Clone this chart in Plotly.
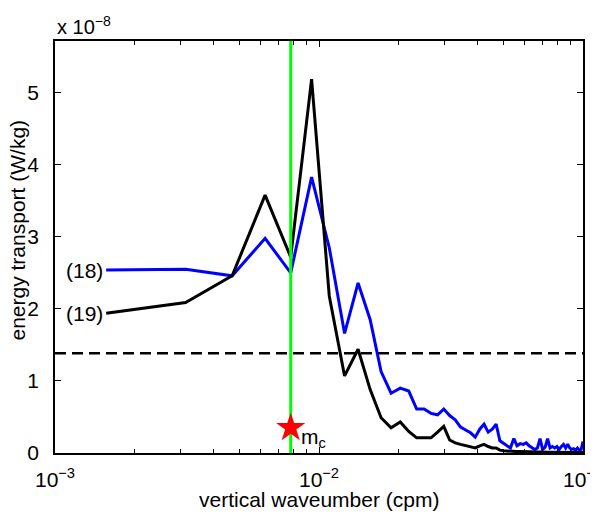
import math
import plotly.graph_objects as go

# ---- data (energy transport in units of 1e-8 W/kg) ----
k_index = list(range(1, 65))
dm = 1.0 / 640.0
wavenumber = [k * dm for k in k_index]  # cpm

series18 = [2.54, 2.55, 2.46, 2.98, 2.50, 3.83, 2.85, 1.66, 2.36, 1.85,
            1.13, 0.83, 0.90, 0.86, 0.61, 0.61, 0.55, 0.53, 0.61, 0.52,
            0.46, 0.36, 0.32, 0.28, 0.22, 0.33, 0.40, 0.29, 0.33, 0.40,
            0.17, 0.13, 0.10, 0.07, 0.20, 0.10, 0.13, 0.12, 0.14, 0.10,
            0.08, 0.05, 0.07, 0.20, 0.05, 0.08, 0.20, 0.07, 0.09, 0.07,
            0.09, 0.05, 0.09, 0.12, 0.07, 0.12, 0.07, 0.05, 0.06, 0.04,
            0.07, 0.04, 0.05, 0.16]

series19 = [1.94, 2.09, 2.46, 3.58, 2.72, 5.19, 2.18, 1.07, 1.44, 0.88,
            0.49, 0.35, 0.43, 0.30, 0.21, 0.21, 0.21, 0.29, 0.37, 0.18,
            0.14, 0.12, 0.10, 0.09, 0.07, 0.10, 0.12, 0.09, 0.07, 0.07,
            0.04, 0.03, 0.025, 0.02, 0.02, 0.02, 0.02, 0.018, 0.016, 0.015,
            0.014, 0.013, 0.012, 0.012, 0.011, 0.011, 0.010, 0.010, 0.010, 0.010,
            0.009, 0.009, 0.009, 0.008, 0.008, 0.008, 0.008, 0.007, 0.007, 0.007,
            0.007, 0.006, 0.006, 0.006]

m_c = 5 * dm            # critical wavenumber (cpm)
star_value = 0.35       # marker height
threshold = 1.385       # dashed reference level

x_range = [1e-3, 1e-1]
y_max = 5.72
x_tickvals = [1e-3, 1e-2, 1e-1]
x_ticktext = ["10<sup>\u22123</sup>", "10<sup>\u22122</sup>", "10<sup>\u22121</sup>"]
x_minor = [m * 10 ** e for e in (-3, -2) for m in range(2, 10)]
y_tickvals = [0, 1, 2, 3, 4, 5]

FONT = "Liberation Sans, Arial, Helvetica, sans-serif"
FS = 21

fig = go.Figure()
fig.add_trace(go.Scatter(x=wavenumber, y=series18, mode="lines",
                         line=dict(color="#0000FF", width=3), showlegend=False))
fig.add_trace(go.Scatter(x=wavenumber, y=series19, mode="lines",
                         line=dict(color="#000000", width=3), showlegend=False))
fig.add_trace(go.Scatter(x=x_range, y=[threshold, threshold], mode="lines",
                         line=dict(color="#000000", width=2.5, dash="11px,6px"),
                         showlegend=False))
fig.add_trace(go.Scatter(x=[m_c, m_c], y=[0, y_max], mode="lines",
                         line=dict(color="#00FF00", width=3), showlegend=False))
fig.add_trace(go.Scatter(x=[m_c], y=[star_value], mode="markers",
                         marker=dict(symbol="star", size=22, color="#FF0000",
                                     line=dict(width=0)),
                         showlegend=False))

ann_font = dict(family=FONT, size=FS, color="black")
# annotations on a log axis take log10 positions
fig.add_annotation(x=math.log10(wavenumber[0]), y=series18[0], xref="x", yref="y",
                   text="(18)", showarrow=False, xanchor="right", xshift=-1,
                   font=ann_font)
fig.add_annotation(x=math.log10(wavenumber[0]), y=series19[0], xref="x", yref="y",
                   text="(19)", showarrow=False, xanchor="right", xshift=-1,
                   font=ann_font)
fig.add_annotation(x=math.log10(m_c), y=star_value, xref="x", yref="y",
                   text="m<sub>c</sub>", showarrow=False, xanchor="left",
                   xshift=8, yshift=-10, font=ann_font)
fig.add_annotation(x=0, y=1, xref="paper", yref="paper", text="x 10<sup>\u22128</sup>",
                   showarrow=False, xanchor="left", yanchor="bottom", yshift=1,
                   font=dict(family=FONT, size=20, color="black"))
fig.add_annotation(x=0.5, y=0, xref="paper", yref="paper",
                   text="vertical waveumber (cpm)", showarrow=False,
                   xanchor="center", yanchor="middle", yshift=-46, font=ann_font)
fig.add_annotation(x=0, y=0.54, xref="paper", yref="paper",
                   text="energy transport (W/kg)", showarrow=False, textangle=-90,
                   xanchor="center", yanchor="middle", xshift=-37, font=ann_font)

fig.update_xaxes(type="log", range=[-3, -1], tickvals=x_tickvals, ticktext=x_ticktext,
                 ticks="inside", ticklen=6, tickwidth=1, tickcolor="black",
                 showline=True, linecolor="black", linewidth=1.5, mirror="ticks",
                 showgrid=False, zeroline=False, ticklabelstandoff=7,
                 automargin=False, ticklabeloverflow="allow",
                 tickfont=dict(family=FONT, size=FS, color="black"),
                 minor=dict(tickvals=x_minor, ticks="inside", ticklen=4,
                            tickcolor="black", tickwidth=1, showgrid=False))
fig.update_yaxes(range=[0, y_max], tickvals=y_tickvals,
                 ticks="inside", ticklen=6, tickwidth=1, tickcolor="black",
                 showline=True, linecolor="black", linewidth=1.5, mirror="ticks",
                 showgrid=False, zeroline=False, ticklabelstandoff=10,
                 automargin=False,
                 tickfont=dict(family=FONT, size=FS, color="black"))

# the page body has an 8px margin, so the figure is drawn 8px smaller and offset
fig.update_layout(width=590, height=507, margin=dict(l=47, r=15, t=33, b=62),
                  paper_bgcolor="white", plot_bgcolor="white",
                  font=dict(family=FONT, color="black"))

fig.write_html("out.html")
